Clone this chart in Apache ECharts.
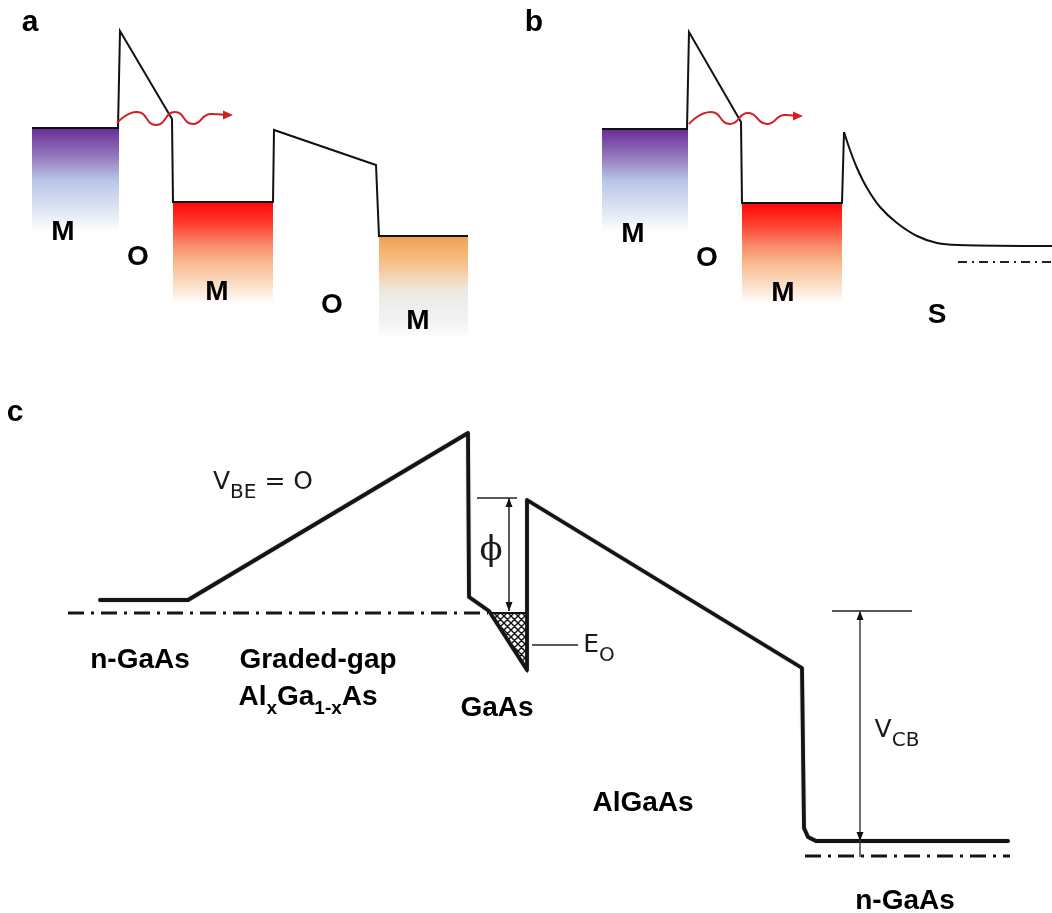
<!DOCTYPE html>
<html>
<head>
<meta charset="utf-8">
<script src="https://cdn.jsdelivr.net/npm/echarts@6/dist/echarts.min.js"></script>
<style>
  html, body { margin: 0; padding: 0; background: #ffffff; }
  #chart { width: 1052px; height: 913px; }
</style>
</head>
<body>
<div id="chart"></div>
<script>
// Band diagrams drawn on a flat cartesian plane (x to the right, energy downwards on screen).

// ---- panel a : M / O / M / O / M
const profileA = [[32,128],[118,128],[120,31],[172,119],[173,202],[273,202],[274,130],[376,165],[379,236],[468,236]];
const wellsA   = [[32,119,128,232],[173,273,202,304],[379,468,236,338]];
const waveA    = [[117,123],[137,112],[156,125],[175,112],[193,124],[211,114],[226,115]];

// ---- panel b : M / O / M / S
const profileB = [[602,129],[687,129],[689,32],[741,122],[742,203],[842,203],[844,132]];
const barrierB = [[844,132],[850,150],[857,168],[867,188],[880,207],[897,223],[917,236],[937,243],[958,245],[1052,246]];
const fermiB   = [[958,262],[1052,262]];
const wellsB   = [[602,688,129,232],[742,842,203,304]];
const waveB    = [[689,124],[711,112],[730,124],[748,113],[767,124],[785,115],[796,116]];

// ---- panel c : n-GaAs / graded AlGaAs / GaAs well / AlGaAs / n-GaAs
const profileC = [[100,600],[188,600],[468,433],[469,597],[489,611],[527,670],[527,500],[802,668],[804,828],[808,837],[816,841],[1008,841]];
const fermiC1  = [[68,613],[488,613]];
const fermiC2  = [[805,856],[1010,856]];
const wellFill = [[490,613],[527,613],[527,670]];
const phiTick  = [[477,498],[517,498]];
const phiLine  = [[509,498],[509,611]];
const e0Leader = [[532,645],[578,645]];
const vcbTick  = [[832,611],[912,611]];
const vcbLine  = [[860,611],[860,857]];

// arrow tips: [x, y, direction in degrees on screen]
const waveTips = [[233,115,0],[803,116,0]];
const dimTips  = [[509,498,-90],[509,611,90],[860,611,-90],[860,841,90]];

// text: [text, x, y]
const panelTags  = [['a',30,23],['b',534,23],['c',15,413]];
const layerTagsA = [['M',63,232],['O',138,257],['M',217,292],['O',332,305],['M',418,321]];
const layerTagsB = [['M',633,234],['O',707,258],['M',783,293],['S',937,315]];
const layerTagsC = [['n-GaAs',140,660],['Graded-gap',318,660],['GaAs',497,708],['AlGaAs',643,803],['n-GaAs',905,901]];
const alloyTag   = [['{m|Al}{s|x}{m|Ga}{s|1-x}{m|As}',308,701]];
const notesC     = [['{v|V}{s|BE}{v| = O}',263,486],['{v|V}{s|CB}',897,734],['{v|E}{s|O}',599,649]];
const phiNote    = [['ϕ',491,551]];

const wellColors = {
  violet: [[0,'#6a2c98'],[0.28,'#957bbf'],[0.5,'#b8c5e6'],[0.78,'#dde5f4'],[1,'#ffffff']],
  red:    [[0,'#ff0606'],[0.2,'#ff3b2c'],[0.42,'#f98a6a'],[0.6,'#f8bb90'],[0.82,'#fbe0c8'],[1,'#ffffff']],
  amber:  [[0,'#f0a04e'],[0.28,'#f6c48e'],[0.5,'#f1e3d4'],[0.62,'#ececec'],[0.85,'#f3f3f3'],[1,'#ffffff']]
};

const chart = echarts.init(document.getElementById('chart'), null, { renderer: 'canvas' });

function lineSeries(data, style, extra) {
  return Object.assign({
    type: 'line', data: data, symbol: 'none', clip: false, silent: true,
    lineStyle: style, z: 3
  }, extra || {});
}

function gradient(stops) {
  return new echarts.graphic.LinearGradient(0, 0, 0, 1, stops.map(s => ({ offset: s[0], color: s[1] })));
}

function wellSeries(data, keys) {
  return {
    type: 'custom', data: data, silent: true, z: 1,
    renderItem: function (params, api) {
      const a = api.coord([api.value(0), api.value(2)]);
      const b = api.coord([api.value(1), api.value(3)]);
      return {
        type: 'rect',
        shape: { x: a[0], y: a[1], width: b[0] - a[0], height: b[1] - a[1] },
        style: { fill: gradient(wellColors[keys[params.dataIndex]]) }
      };
    }
  };
}

function tipSeries(data, color, len, half) {
  return {
    type: 'custom', data: data, silent: true, z: 5,
    renderItem: function (params, api) {
      const p = api.coord([api.value(0), api.value(1)]);
      const ang = api.value(2) * Math.PI / 180;
      const c = Math.cos(ang), s = Math.sin(ang);
      const bx = p[0] - len * c, by = p[1] - len * s;
      return {
        type: 'polygon',
        shape: { points: [[p[0], p[1]], [bx - half * s, by + half * c], [bx + half * s, by - half * c]] },
        style: { fill: color }
      };
    }
  };
}

function textSeries(items, style) {
  return {
    type: 'custom', data: items.map(d => [d[1], d[2]]), silent: true, z: 6,
    renderItem: function (params, api) {
      const p = api.coord([api.value(0), api.value(1)]);
      return {
        type: 'text', x: p[0], y: p[1],
        style: Object.assign({ text: items[params.dataIndex][0], align: 'center', verticalAlign: 'middle' }, style)
      };
    }
  };
}

// cross-hatch tile for the occupied part of the quantum well
const hatch = document.createElement('canvas');
hatch.width = 7; hatch.height = 7;
(function () {
  const g = hatch.getContext('2d');
  g.fillStyle = '#ffffff'; g.fillRect(0, 0, 7, 7);
  g.strokeStyle = '#111111'; g.lineWidth = 1.4;
  g.beginPath();
  for (let k = -7; k <= 7; k += 7) {
    g.moveTo(k, 0); g.lineTo(k + 7, 7);
    g.moveTo(k + 7, 0); g.lineTo(k, 7);
  }
  g.stroke();
})();

const thin  = { color: '#111111', width: 2, join: 'miter' };
const heavy = { color: '#141414', width: 3.8, join: 'round', cap: 'round', shadowColor: 'rgba(0,0,0,0.35)', shadowBlur: 1.5 };
const fine  = { color: '#222222', width: 1.5 };
const wave  = { color: '#d41f1f', width: 2 };

const boldLabel = { fontFamily: '"Liberation Sans", Arial, sans-serif', fontWeight: 'bold', fill: '#000000' };
const subRich = {
  m: { fontFamily: '"Liberation Sans", Arial, sans-serif', fontWeight: 'bold', fontSize: 28, fill: '#000', lineHeight: 28, verticalAlign: 'top' },
  s: { fontFamily: '"Liberation Sans", Arial, sans-serif', fontWeight: 'bold', fontSize: 19, fill: '#000', lineHeight: 35, verticalAlign: 'bottom' }
};
const noteRich = {
  v: { fontFamily: '"DejaVu Sans", sans-serif', fontSize: 25, fill: '#1a1a1a', lineHeight: 26, verticalAlign: 'top' },
  s: { fontFamily: '"DejaVu Sans", sans-serif', fontSize: 20, fill: '#1a1a1a', lineHeight: 33, verticalAlign: 'bottom' }
};

const option = {
  animation: false,
  backgroundColor: '#ffffff',
  grid: { left: 0, right: 0, top: 0, bottom: 0, containLabel: false },
  xAxis: { type: 'value', min: 0, max: 1052, show: false },
  yAxis: { type: 'value', min: 0, max: 913, inverse: true, show: false },
  series: [
    wellSeries(wellsA, ['violet', 'red', 'amber']),
    wellSeries(wellsB, ['violet', 'red']),
    lineSeries(profileA, thin),
    lineSeries(profileB, thin),
    lineSeries(barrierB, thin, { smooth: 0.35 }),
    lineSeries(fermiB, { color: '#222', width: 2, type: [9, 5, 2, 5] }),
    lineSeries(waveA, wave, { smooth: 0.55, z: 4 }),
    lineSeries(waveB, wave, { smooth: 0.55, z: 4 }),
    tipSeries(waveTips, '#d41f1f', 10, 4.5),

    {
      type: 'custom', data: wellFill, silent: true, z: 2,
      renderItem: function (params, api) {
        if (params.dataIndex !== 0) return null;
        const pts = wellFill.map(p => api.coord(p));
        return { type: 'polygon', shape: { points: pts }, style: { fill: { image: hatch, repeat: 'repeat' }, stroke: '#111', lineWidth: 2 } };
      }
    },
    lineSeries(profileC, heavy),
    lineSeries(fermiC1, { color: '#161616', width: 3.2, type: [16, 7, 3, 7] }),
    lineSeries(fermiC2, { color: '#161616', width: 3.2, type: [16, 7, 3, 7] }),
    lineSeries(phiTick, fine),
    lineSeries(phiLine, fine),
    lineSeries(e0Leader, fine),
    lineSeries(vcbTick, fine),
    lineSeries(vcbLine, { color: '#333333', width: 1.4 }),
    tipSeries(dimTips, '#111111', 9, 3.5),

    textSeries(panelTags, Object.assign({ fontSize: 30 }, boldLabel)),
    textSeries(layerTagsA, Object.assign({ fontSize: 28 }, boldLabel)),
    textSeries(layerTagsB, Object.assign({ fontSize: 28 }, boldLabel)),
    textSeries(layerTagsC, Object.assign({ fontSize: 28 }, boldLabel)),
    textSeries(alloyTag, { rich: subRich, fill: '#000' }),
    textSeries(notesC, { rich: noteRich, fill: '#1a1a1a' }),
    textSeries(phiNote, { fontFamily: '"DejaVu Serif", serif', fontSize: 34, fill: '#1a1a1a' })
  ]
};

chart.setOption(option);
</script>
</body>
</html>
